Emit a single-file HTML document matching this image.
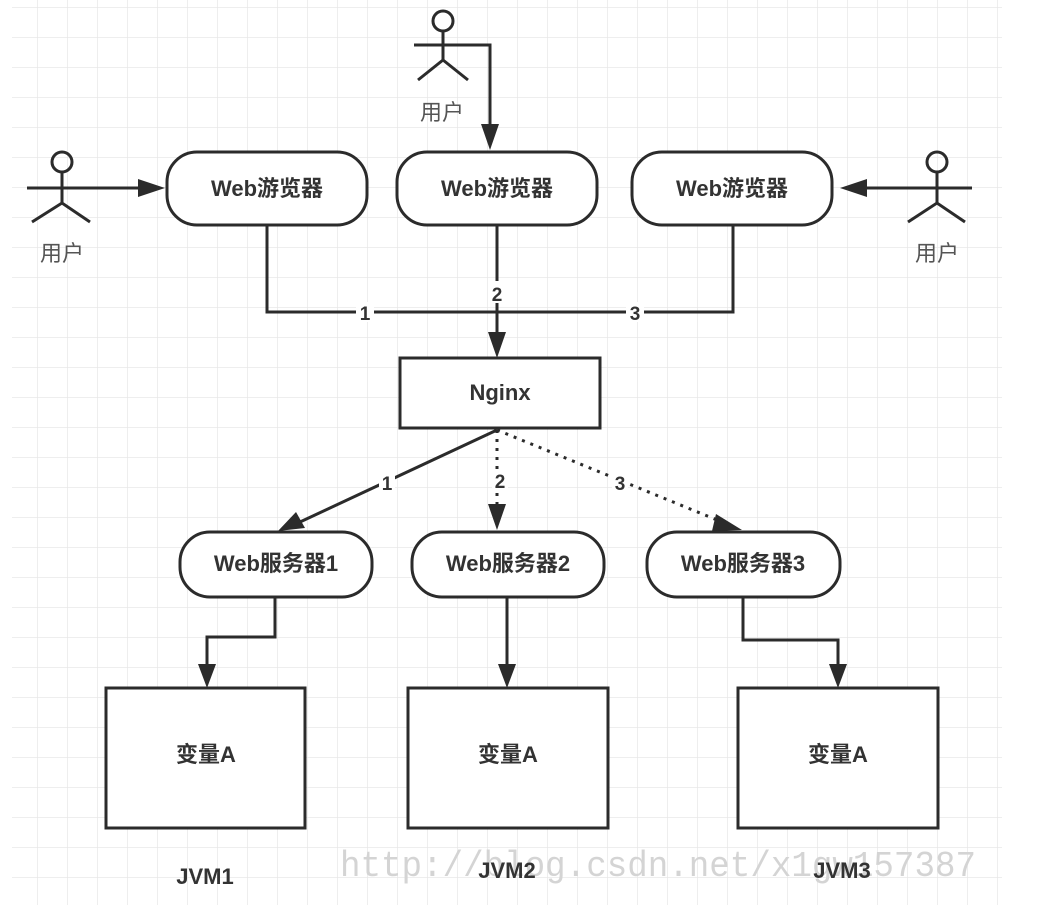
<!DOCTYPE html>
<html><head><meta charset="utf-8"><style>
html,body{margin:0;padding:0;background:#fff;}
svg{display:block;}
text{font-family:"Liberation Sans","Noto Sans CJK SC",sans-serif;}
</style></head><body>
<svg width="1042" height="920" viewBox="0 0 1042 920" xmlns="http://www.w3.org/2000/svg">
<defs>
<pattern id="g" x="7" y="7" width="30" height="30" patternUnits="userSpaceOnUse">
<path d="M0 0H30M0 0V30" stroke="#e8e8e8" stroke-width="1.5" fill="none"/>
</pattern>
</defs>
<rect x="12" y="0" width="990" height="905" fill="url(#g)"/>
<g stroke="#2b2b2b" stroke-width="3" fill="none">
<circle cx="443" cy="21" r="10"/><path d="M443 31V60M414 45H472M418 80L443 60L468 80"/>
<circle cx="62" cy="162" r="10"/><path d="M62 172V203M27 188H97M32 222L62 203L90 222"/>
<circle cx="937" cy="162" r="10"/><path d="M937 172V203M905 188H972M908 222L937 203L965 222"/>
<path d="M472 45H490V128"/>
<path d="M97 188H140"/>
<path d="M905 188H865"/>
<path d="M267 225V312H733V225M497 225V336"/>
<path d="M497 430L300 522"/>
<path d="M497 430V508" stroke-dasharray="3,6"/>
<path d="M497 430L722 522" stroke-dasharray="3,6"/>
<path d="M275 597V637H207V668M507 597V668M743 597V640H838V668"/>
<rect x="167" y="152" width="200" height="73" rx="30" fill="#fff"/>
<rect x="397" y="152" width="200" height="73" rx="30" fill="#fff"/>
<rect x="632" y="152" width="200" height="73" rx="30" fill="#fff"/>
<rect x="400" y="358" width="200" height="70" fill="#fff"/>
<rect x="180" y="532" width="192" height="65" rx="30" fill="#fff"/>
<rect x="412" y="532" width="192" height="65" rx="30" fill="#fff"/>
<rect x="647" y="532" width="193" height="65" rx="30" fill="#fff"/>
<rect x="106" y="688" width="199" height="140" fill="#fff"/>
<rect x="408" y="688" width="200" height="140" fill="#fff"/>
<rect x="738" y="688" width="200" height="140" fill="#fff"/>
</g>
<g fill="#2b2b2b">
<path d="M490 150L481 124H499Z"/>
<path d="M165 188L138 179V197Z"/>
<path d="M840 188L867 179V197Z"/>
<path d="M497 358L488 332H506Z"/>
<path d="M278 531L296 512L305 528Z"/>
<path d="M497 530L488 504H506Z"/>
<path d="M742 530L716 514L712 531Z"/>
<path d="M207 688L198 664H216Z"/>
<path d="M507 688L498 664H516Z"/>
<path d="M838 688L829 664H847Z"/>
</g>
<g fill="#fff">
<rect x="356" y="302" width="18" height="20"/><rect x="626" y="302" width="18" height="20"/>
<rect x="489" y="281" width="16" height="22"/>
<rect x="379" y="472" width="16" height="22"/><rect x="492" y="469" width="16" height="22"/><rect x="612" y="472" width="16" height="22"/>
</g>
<g fill="#333" font-size="22" font-weight="bold" text-anchor="middle">
<text x="267" y="196">Web游览器</text>
<text x="497" y="196">Web游览器</text>
<text x="732" y="196">Web游览器</text>
<text x="500" y="400">Nginx</text>
<text x="276" y="571">Web服务器1</text>
<text x="508" y="571">Web服务器2</text>
<text x="743" y="571">Web服务器3</text>
<text x="206" y="762">变量A</text>
<text x="508" y="762">变量A</text>
<text x="838" y="762">变量A</text>
<text x="365" y="320" font-size="19">1</text>
<text x="497" y="301" font-size="19">2</text>
<text x="635" y="320" font-size="19">3</text>
<text x="387" y="490" font-size="19">1</text>
<text x="500" y="488" font-size="19">2</text>
<text x="620" y="490" font-size="19">3</text>
</g>
<g fill="#555" font-size="22" text-anchor="middle">
<text x="442" y="120">用户</text>
<text x="62" y="261">用户</text>
<text x="937" y="261">用户</text>
</g>
<text x="658" y="876" style="font-family:'Liberation Mono',monospace" font-size="36" fill="#d4d4d4" text-anchor="middle" textLength="636" lengthAdjust="spacingAndGlyphs">http://blog.csdn.net/x1gw157387</text>
<g fill="#333" font-size="22" font-weight="bold" text-anchor="middle">
<text x="205" y="884">JVM1</text>
<text x="507" y="878">JVM2</text>
<text x="842" y="878">JVM3</text>
</g>
</svg>
</body></html>
